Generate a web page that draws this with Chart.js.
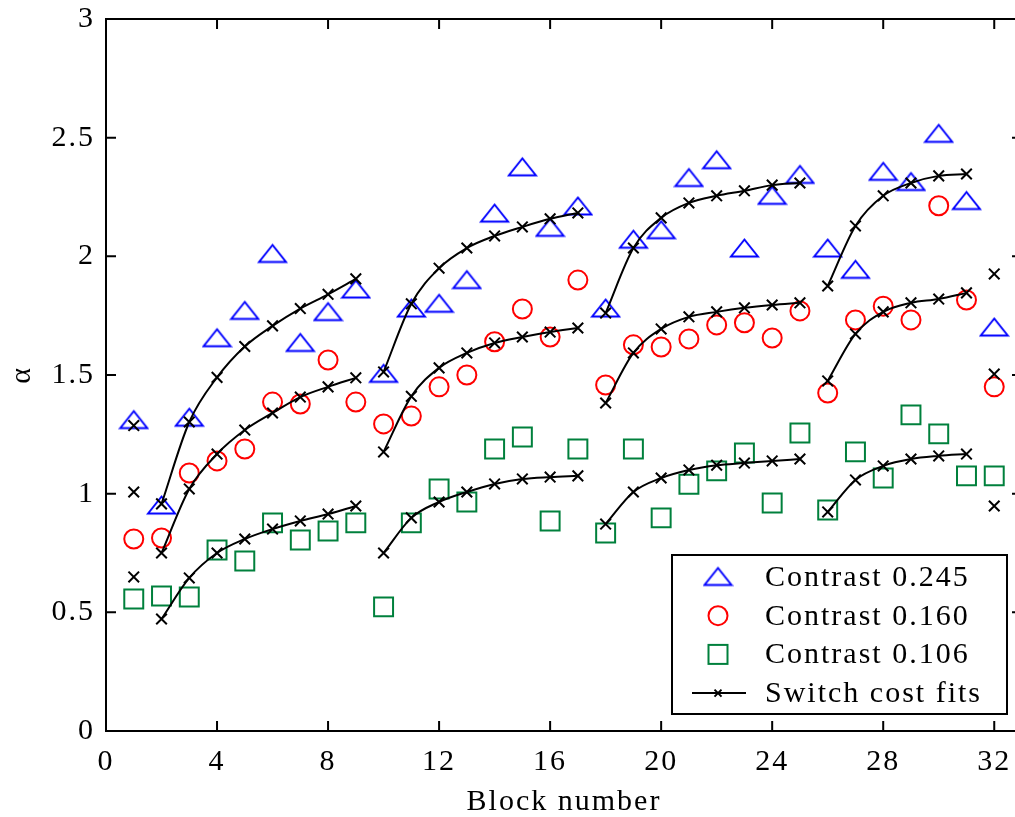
<!DOCTYPE html>
<html lang="en">
<head>
<meta charset="UTF-8">
<title>Switch cost fits</title>
<script src="https://cdn.jsdelivr.net/npm/chart.js"></script>
<style>
  body { margin: 0; overflow: hidden; background: #fff; }
  /* a bit wider than the window: the x axis runs to 33 and the right edge is cut off */
  #chart { position: absolute; left: 0; top: 0; display: block; }
</style>
</head>
<body>
<canvas id="chart" width="1030" height="817"></canvas>
<script>
// block numbers 1..32
const blocks = Array.from({ length: 32 }, (_, i) => i + 1);

// measured alpha per block
const contrast245 = [1.31, 0.95, 1.32, 1.655, 1.77, 2.01, 1.635, 1.765, 1.86, 1.505, 1.78, 1.80, 1.90, 2.18, 2.375, 2.12,
                     2.21, 1.78, 2.07, 2.11, 2.33, 2.405, 2.033, 2.255, 2.343, 2.033, 1.943, 2.356, 2.313, 2.516, 2.233, 1.70];
const contrast160 = [0.809, 0.813, 1.087, 1.138, 1.188, 1.386, 1.378, 1.563, 1.386, 1.294, 1.327, 1.45, 1.50, 1.64, 1.778, 1.66,
                     1.90, 1.458, 1.627, 1.618, 1.652, 1.711, 1.72, 1.656, 1.77, 1.424, 1.732, 1.79, 1.732, 2.213, 1.816, 1.45];
const contrast106 = [0.556, 0.569, 0.565, 0.763, 0.716, 0.877, 0.805, 0.843, 0.877, 0.523, 0.877, 1.02, 0.965, 1.188, 1.239, 0.885,
                     1.188, 0.834, 1.188, 0.898, 1.04, 1.096, 1.171, 0.961, 1.256, 0.931, 1.176, 1.066, 1.332, 1.252, 1.075, 1.075];

// switch cost fits
const fit245 = [1.287, 0.957, 1.302, 1.49, 1.62, 1.707, 1.78, 1.84, 1.905, 1.513, 1.80, 1.95, 2.035, 2.086, 2.124, 2.158,
                2.183, 1.761, 2.035, 2.162, 2.225, 2.255, 2.276, 2.30, 2.309, 1.875, 2.128, 2.255, 2.309, 2.339, 2.347, 1.926];
const fit160 = [1.007, 0.75, 1.02, 1.167, 1.268, 1.34, 1.407, 1.45, 1.488, 1.176, 1.41, 1.53, 1.593, 1.635, 1.66, 1.681,
                1.698, 1.382, 1.593, 1.694, 1.745, 1.766, 1.783, 1.795, 1.804, 1.475, 1.673, 1.766, 1.804, 1.82, 1.846, 1.504];
const fit106 = [0.649, 0.472, 0.645, 0.75, 0.809, 0.851, 0.885, 0.914, 0.948, 0.75, 0.898, 0.965, 1.007, 1.041, 1.062, 1.07,
                1.075, 0.872, 1.007, 1.066, 1.10, 1.12, 1.129, 1.138, 1.146, 0.923, 1.058, 1.117, 1.146, 1.159, 1.167, 0.948];

// runs of blocks joined by a fit curve, and blocks with a lone cross
const fitRuns = [[2, 9], [10, 17], [18, 25], [26, 31]];
const loneFitBlocks = [1, 32];

const xTicks = [0, 4, 8, 12, 16, 20, 24, 28, 32];
const yTicks = [0, 0.5, 1, 1.5, 2, 2.5, 3];
const legendLabels = ['Contrast 0.245', 'Contrast 0.160', 'Contrast 0.106', 'Switch cost fits'];

const BLUE = '#0000ff', RED = '#ff0000', GREEN = '#00803c';
const FONT = "'Liberation Serif', 'Times New Roman', serif";
const FONT_SIZE = 30;

Chart.defaults.font.family = FONT;
Chart.defaults.font.size = FONT_SIZE;
Chart.defaults.color = '#000';

// matlab style triangle: wider than tall
function triangleMarker(color) {
  const c = document.createElement('canvas');
  c.width = 31; c.height = 23;
  const g = c.getContext('2d');
  g.strokeStyle = color;
  g.lineWidth = 2;
  g.beginPath();
  g.moveTo(15.5, 2.5);
  g.lineTo(2, 19.5);
  g.lineTo(29, 19.5);
  g.closePath();
  g.stroke();
  return c;
}
const triImg = triangleMarker(BLUE);

const pts = (arr, list) => list.map(b => ({ x: b, y: arr[b - 1] }));

const fitSets = [];
[fit245, fit160, fit106].forEach(fit => {
  fitRuns.forEach(([a, b]) => {
    fitSets.push({
      data: pts(fit, blocks.filter(k => k >= a && k <= b)),
      showLine: true,
      borderColor: '#000',
      borderWidth: 2,
      cubicInterpolationMode: 'monotone',
      pointStyle: 'crossRot',
      pointRadius: 7.5,
      pointBorderWidth: 2,
      pointBorderColor: '#000'
    });
  });
  fitSets.push({
    data: pts(fit, loneFitBlocks),
    showLine: false,
    pointStyle: 'crossRot',
    pointRadius: 7.5,
    pointBorderWidth: 2,
    pointBorderColor: '#000'
  });
});

const markerSets = [
  { data: pts(contrast245, blocks), pointStyle: triImg, pointRadius: 12, showLine: false },
  { data: pts(contrast160, blocks), pointStyle: 'circle', pointRadius: 9.5, pointBorderWidth: 2,
    pointBorderColor: RED, pointBackgroundColor: 'transparent', showLine: false },
  { data: pts(contrast106, blocks), pointStyle: 'rect', pointRadius: 13.4, pointBorderWidth: 2,
    pointBorderColor: GREEN, pointBackgroundColor: 'transparent', showLine: false }
];

// wider text like the original figure
const spacingPlugin = {
  id: 'spacing',
  beforeUpdate(chart) { chart.ctx.letterSpacing = '2px'; },
  beforeDraw(chart) { chart.ctx.letterSpacing = '2px'; }
};

// box frame with inward ticks on all four sides
const framePlugin = {
  id: 'frame',
  afterDatasetsDraw(chart) {
    const { ctx, chartArea: ca, scales } = chart;
    const len = 10;
    ctx.save();
    ctx.strokeStyle = '#000';
    ctx.lineWidth = 2;
    ctx.strokeRect(ca.left, ca.top, ca.right - ca.left, ca.bottom - ca.top);
    ctx.beginPath();
    xTicks.forEach(v => {
      const px = scales.x.getPixelForValue(v);
      ctx.moveTo(px, ca.bottom); ctx.lineTo(px, ca.bottom - len);
      ctx.moveTo(px, ca.top); ctx.lineTo(px, ca.top + len);
    });
    yTicks.forEach(v => {
      const py = scales.y.getPixelForValue(v);
      ctx.moveTo(ca.left, py); ctx.lineTo(ca.left + len, py);
      ctx.moveTo(ca.right, py); ctx.lineTo(ca.right - len, py);
    });
    ctx.stroke();
    ctx.restore();
  }
};

const legendPlugin = {
  id: 'boxLegend',
  afterDraw(chart) {
    const { ctx, chartArea: ca } = chart;
    const w = 335, h = 159;
    const right = ca.right - 15, bottom = ca.bottom - 17;
    const left = right - w, top = bottom - h;
    ctx.save();
    ctx.fillStyle = '#fff';
    ctx.fillRect(left, top, w, h);
    ctx.strokeStyle = '#000';
    ctx.lineWidth = 2;
    ctx.strokeRect(left, top, w, h);

    const mx = left + 46, tx = left + 93;
    const rows = legendLabels.map((_, i) => top + 22 + i * 38.7);

    ctx.drawImage(triImg, mx - triImg.width / 2, rows[0] - triImg.height / 2);

    ctx.lineWidth = 2;
    ctx.strokeStyle = RED;
    ctx.beginPath(); ctx.arc(mx, rows[1], 9.5, 0, Math.PI * 2); ctx.stroke();

    ctx.strokeStyle = GREEN;
    ctx.strokeRect(mx - 9.5, rows[2] - 9.5, 19, 19);

    ctx.strokeStyle = '#000';
    ctx.beginPath();
    ctx.moveTo(mx - 26, rows[3]); ctx.lineTo(mx + 28, rows[3]);
    ctx.moveTo(mx - 3.5, rows[3] - 3.5); ctx.lineTo(mx + 3.5, rows[3] + 3.5);
    ctx.moveTo(mx - 3.5, rows[3] + 3.5); ctx.lineTo(mx + 3.5, rows[3] - 3.5);
    ctx.stroke();

    ctx.fillStyle = '#000';
    ctx.font = FONT_SIZE + 'px ' + FONT;
    ctx.textBaseline = 'middle';
    ctx.textAlign = 'left';
    legendLabels.forEach((t, i) => ctx.fillText(t, tx, rows[i] + 1));
    ctx.restore();
  }
};

new Chart(document.getElementById('chart'), {
  type: 'scatter',
  data: { datasets: [...fitSets, ...markerSets] },
  options: {
    responsive: false,
    animation: false,
    events: [],
    // big markers would otherwise push the plot edge in
    layout: { autoPadding: false, padding: { left: 0, right: 8, top: 19, bottom: 0 } },
    plugins: { legend: { display: false }, tooltip: { enabled: false } },
    scales: {
      x: {
        type: 'linear',
        min: 0,
        max: 33,
        afterBuildTicks: s => { s.ticks = xTicks.map(v => ({ value: v })); },
        afterFit: s => { s.height = 86; s.paddingLeft = 0; s.paddingRight = 0; },
        ticks: { callback: v => String(v), padding: 13, maxRotation: 0, autoSkip: false },
        grid: { display: false, drawTicks: false },
        border: { display: false },
        title: { display: true, text: 'Block number', font: { lineHeight: 1 }, padding: { top: 0, bottom: 0 } }
      },
      y: {
        type: 'linear',
        min: 0,
        max: 3,
        afterBuildTicks: s => { s.ticks = yTicks.map(v => ({ value: v })); },
        afterFit: s => { s.width = 106; s.paddingTop = 0; s.paddingBottom = 0; },
        ticks: { callback: v => String(v), padding: 11, autoSkip: false },
        grid: { display: false, drawTicks: false },
        border: { display: false },
        title: { display: true, text: 'α', font: { lineHeight: 1 }, padding: { top: 7, bottom: 0 } }
      }
    }
  },
  plugins: [spacingPlugin, framePlugin, legendPlugin]
});
</script>
</body>
</html>
